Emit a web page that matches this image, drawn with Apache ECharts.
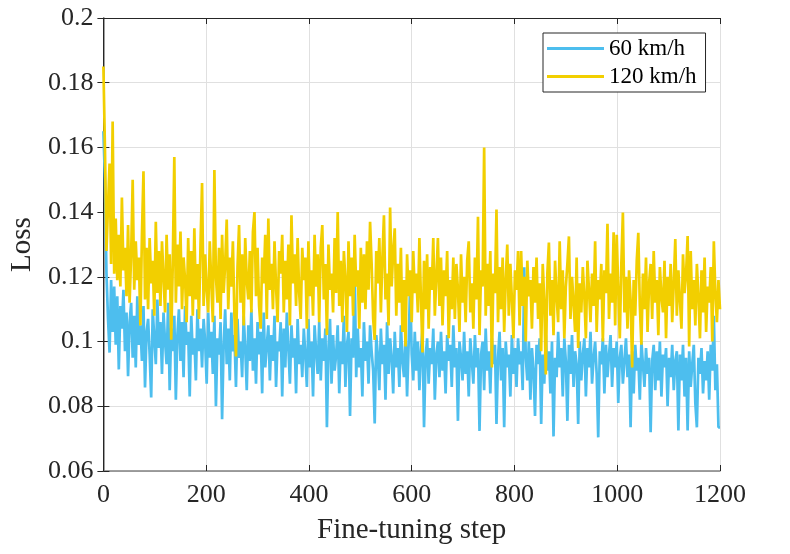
<!DOCTYPE html>
<html>
<head>
<meta charset="utf-8">
<title>Fine-tuning loss</title>
<script src="https://cdn.jsdelivr.net/npm/echarts@6/dist/echarts.min.js"></script>
<style>
  body { margin: 0; background: #fff; }
  #chart { width: 790px; height: 554px; }
</style>
</head>
<body>
<div id="chart"></div>
<script>
// one value every STEP fine-tuning steps (last one is step 1200)
var STEP = 3;
var seriesNames = ['60 km/h', '120 km/h'];
var xTicks = [0, 200, 400, 600, 800, 1000, 1200];
var yTicks = [0.06, 0.08, 0.1, 0.12, 0.14, 0.16, 0.18, 0.2];

var loss60 = [
  0.165, 0.150, 0.121, 0.107, 0.0966, 0.119, 0.103, 0.117, 0.099, 0.114,
  0.0914, 0.111, 0.104, 0.116, 0.097, 0.109, 0.0893, 0.106, 0.112, 0.095,
  0.108, 0.092, 0.114, 0.099, 0.105, 0.094, 0.111, 0.0858, 0.103, 0.107,
  0.096, 0.0827, 0.110, 0.101, 0.093, 0.113, 0.098, 0.106, 0.090, 0.109,
  0.100, 0.093, 0.112, 0.085, 0.104, 0.097, 0.108, 0.082, 0.102, 0.110,
  0.094, 0.106, 0.089, 0.111, 0.099, 0.103, 0.083, 0.108, 0.096, 0.101,
  0.088, 0.110, 0.097, 0.104, 0.092, 0.107, 0.100, 0.087, 0.109, 0.095,
  0.103, 0.090, 0.108, 0.080, 0.101, 0.096, 0.106, 0.076, 0.099, 0.110,
  0.093, 0.104, 0.088, 0.109, 0.097, 0.102, 0.086, 0.107, 0.095, 0.100,
  0.089, 0.108, 0.098, 0.085, 0.105, 0.094, 0.110, 0.091, 0.101, 0.087,
  0.106, 0.096, 0.103, 0.084, 0.109, 0.092, 0.099, 0.105, 0.088, 0.102,
  0.094, 0.108, 0.086, 0.100, 0.097, 0.106, 0.083, 0.104, 0.092, 0.109,
  0.098, 0.087, 0.105, 0.095, 0.101, 0.084, 0.107, 0.093, 0.099, 0.089,
  0.104, 0.096, 0.086, 0.107, 0.092, 0.100, 0.083, 0.105, 0.097, 0.090,
  0.106, 0.088, 0.101, 0.094, 0.104, 0.0735, 0.098, 0.107, 0.087, 0.102,
  0.091, 0.096, 0.105, 0.084, 0.100, 0.093, 0.108, 0.086, 0.099, 0.103,
  0.077, 0.101, 0.095, 0.123, 0.089, 0.104, 0.092, 0.098, 0.083, 0.106,
  0.094, 0.100, 0.087, 0.105, 0.097, 0.091, 0.0747, 0.102, 0.096, 0.085,
  0.104, 0.093, 0.099, 0.082, 0.106, 0.090, 0.101, 0.095, 0.084, 0.103,
  0.092, 0.098, 0.086, 0.105, 0.094, 0.089, 0.102, 0.083, 0.099, 0.118,
  0.096, 0.088, 0.103, 0.091, 0.100, 0.085, 0.097, 0.104, 0.0735, 0.095,
  0.101, 0.087, 0.098, 0.093, 0.104, 0.082, 0.096, 0.100, 0.089, 0.103,
  0.091, 0.097, 0.084, 0.102, 0.094, 0.099, 0.086, 0.105, 0.092, 0.098,
  0.0755, 0.100, 0.095, 0.088, 0.103, 0.090, 0.097, 0.083, 0.101, 0.094,
  0.087, 0.102, 0.092, 0.098, 0.0724, 0.096, 0.100, 0.085, 0.104, 0.091,
  0.097, 0.084, 0.101, 0.093, 0.099, 0.0745, 0.095, 0.103, 0.088, 0.098,
  0.0735, 0.100, 0.092, 0.096, 0.083, 0.102, 0.090, 0.098, 0.086, 0.101,
  0.093, 0.097, 0.085, 0.123, 0.095, 0.088, 0.100, 0.082, 0.098, 0.091,
  0.077, 0.099, 0.093, 0.101, 0.0745, 0.096, 0.087, 0.102, 0.091, 0.097,
  0.084, 0.100, 0.0707, 0.095, 0.089, 0.103, 0.092, 0.098, 0.083, 0.101,
  0.094, 0.0755, 0.099, 0.090, 0.102, 0.086, 0.097, 0.093, 0.0745, 0.100,
  0.088, 0.096, 0.101, 0.083, 0.098, 0.092, 0.103, 0.087, 0.095, 0.100,
  0.090, 0.0704, 0.097, 0.093, 0.101, 0.084, 0.099, 0.089, 0.096, 0.102,
  0.086, 0.098, 0.092, 0.100, 0.081, 0.095, 0.099, 0.087, 0.094, 0.101,
  0.089, 0.096, 0.0735, 0.097, 0.084, 0.099, 0.091, 0.095, 0.082, 0.100,
  0.093, 0.086, 0.098, 0.090, 0.095, 0.072, 0.094, 0.099, 0.085, 0.097,
  0.088, 0.100, 0.083, 0.096, 0.092, 0.098, 0.080, 0.095, 0.089, 0.099,
  0.085, 0.094, 0.097, 0.0725, 0.096, 0.088, 0.099, 0.083, 0.095, 0.0725,
  0.097, 0.086, 0.093, 0.099, 0.081, 0.0735, 0.095, 0.090, 0.098, 0.084,
  0.094, 0.088, 0.097, 0.082, 0.099, 0.091, 0.108, 0.085, 0.093, 0.0735,
  0.0735
];

var loss120 = [
  0.185, 0.160, 0.128, 0.142, 0.155, 0.124, 0.168, 0.121, 0.138, 0.119,
  0.133, 0.117, 0.1445, 0.122, 0.129, 0.114, 0.136, 0.112, 0.127, 0.150,
  0.116, 0.131, 0.119, 0.126, 0.105, 0.133, 0.1526, 0.113, 0.129, 0.110,
  0.132, 0.118, 0.125, 0.108, 0.137, 0.115, 0.128, 0.111, 0.131, 0.120,
  0.109, 0.133, 0.116, 0.127, 0.1006, 0.124, 0.157, 0.112, 0.130, 0.117,
  0.134, 0.110, 0.126, 0.119, 0.106, 0.132, 0.114, 0.128, 0.108, 0.135,
  0.113, 0.124, 0.107, 0.130, 0.149, 0.111, 0.127, 0.116, 0.109, 0.131,
  0.118, 0.106, 0.153, 0.120, 0.112, 0.129, 0.107, 0.133, 0.115, 0.124,
  0.1377, 0.110, 0.126, 0.117, 0.131, 0.108, 0.0954, 0.123, 0.136, 0.112,
  0.127, 0.105, 0.132, 0.119, 0.113, 0.128, 0.109, 0.134, 0.140, 0.114,
  0.129, 0.111, 0.104, 0.126, 0.118, 0.133, 0.107, 0.138, 0.116, 0.124,
  0.110, 0.131, 0.117, 0.106, 0.128, 0.121, 0.133, 0.109, 0.125, 0.113,
  0.130, 0.105, 0.139, 0.118, 0.127, 0.111, 0.132, 0.115, 0.107, 0.129,
  0.119, 0.126, 0.104, 0.131, 0.114, 0.122, 0.108, 0.133, 0.117, 0.127,
  0.106, 0.129, 0.136, 0.113, 0.124, 0.102, 0.130, 0.116, 0.121, 0.109,
  0.132, 0.115, 0.140, 0.111, 0.125, 0.106, 0.128, 0.119, 0.103, 0.131,
  0.114, 0.126, 0.108, 0.133, 0.117, 0.122, 0.104, 0.129, 0.112, 0.127,
  0.110, 0.131, 0.116, 0.137, 0.124, 0.107, 0.1005, 0.128, 0.118, 0.132,
  0.109, 0.126, 0.139, 0.113, 0.121, 0.105, 0.1414, 0.117, 0.128, 0.135,
  0.108, 0.124, 0.112, 0.129, 0.103, 0.119, 0.0985, 0.127, 0.114, 0.122,
  0.106, 0.128, 0.115, 0.121, 0.109, 0.132, 0.113, 0.0966, 0.125, 0.110,
  0.127, 0.104, 0.123, 0.116, 0.132, 0.108, 0.120, 0.132, 0.111, 0.126,
  0.105, 0.122, 0.114, 0.128, 0.101, 0.119, 0.110, 0.126, 0.107, 0.124,
  0.116, 0.103, 0.127, 0.112, 0.120, 0.106, 0.125, 0.131, 0.109, 0.118,
  0.104, 0.126, 0.113, 0.1386, 0.102, 0.122, 0.117, 0.160, 0.108, 0.124,
  0.111, 0.128, 0.092, 0.121, 0.115, 0.1408, 0.106, 0.123, 0.110, 0.126,
  0.103, 0.119, 0.130, 0.108, 0.124, 0.113, 0.101, 0.122, 0.116, 0.128,
  0.105, 0.128, 0.111, 0.120, 0.100, 0.125, 0.114, 0.119, 0.104, 0.123,
  0.112, 0.126, 0.107, 0.118, 0.097, 0.124, 0.113, 0.0898, 0.121, 0.1306,
  0.108, 0.119, 0.102, 0.125, 0.114, 0.106, 0.131, 0.110, 0.122, 0.101,
  0.117, 0.124, 0.1325, 0.107, 0.120, 0.112, 0.103, 0.126, 0.098, 0.118,
  0.109, 0.123, 0.114, 0.101, 0.125, 0.116, 0.106, 0.121, 0.111, 0.131,
  0.103, 0.119, 0.113, 0.124, 0.100, 0.122, 0.115, 0.1364, 0.107, 0.121,
  0.112, 0.1338, 0.105, 0.133, 0.116, 0.101, 0.124, 0.1399, 0.109, 0.120,
  0.104, 0.122, 0.113, 0.092, 0.119, 0.108, 0.125, 0.1336, 0.111, 0.099,
  0.121, 0.110, 0.126, 0.103, 0.118, 0.124, 0.107, 0.128, 0.112, 0.119,
  0.102, 0.123, 0.114, 0.109, 0.125, 0.101, 0.120, 0.111, 0.124, 0.106,
  0.118, 0.1317, 0.108, 0.122, 0.113, 0.104, 0.127, 0.115, 0.121, 0.1326,
  0.0985, 0.128, 0.110, 0.119, 0.105, 0.124, 0.114, 0.101, 0.122, 0.109,
  0.126, 0.103, 0.117, 0.112, 0.123, 0.100, 0.131, 0.115, 0.106, 0.119,
  0.110
];

var colors = ['#4DBEEE', '#F2CF00'];
var font = "'Liberation Serif', 'Times New Roman', serif";

function pairs(values) {
  return values.map(function (v, i) { return [i * STEP, v]; });
}

var chart = echarts.init(document.getElementById('chart'), null, { renderer: 'canvas' });

// top and right edges of the box: line and inward ticks only
var edgeAxis = {
  axisLine: { show: true, lineStyle: { color: '#262626', width: 1 } },
  axisTick: { show: true, inside: true, length: 6, lineStyle: { color: '#262626' } },
  axisLabel: { show: false },
  splitLine: { show: false }
};

chart.setOption({
  animation: false,
  backgroundColor: '#fff',
  textStyle: { fontFamily: font },
  grid: { left: 103, right: 70, top: 18, bottom: 83, containLabel: false },
  legend: {
    data: seriesNames,
    orient: 'vertical',
    left: 543,
    top: 33,
    padding: [4, 9, 4, 4],
    itemGap: 5,
    itemWidth: 57,
    itemHeight: 3,
    icon: 'rect',
    borderColor: '#262626',
    borderWidth: 1,
    backgroundColor: '#fff',
    textStyle: { fontFamily: font, fontSize: 23, lineHeight: 23, color: '#000' }
  },
  xAxis: [{
    type: 'value',
    min: xTicks[0],
    max: xTicks[xTicks.length - 1],
    interval: 200,
    name: 'Fine-tuning step',
    nameLocation: 'middle',
    nameGap: 45,
    nameTextStyle: { fontFamily: font, fontSize: 29, color: '#262626' },
    axisLine: { show: true, onZero: false, lineStyle: { color: '#808080', width: 1.5 } },
    axisTick: { show: true, inside: true, length: 6, lineStyle: { color: '#262626' } },
    axisLabel: {
      fontFamily: font, fontSize: 26, color: '#262626', margin: 11,
      formatter: function (v) { return String(v); }
    },
    splitLine: { show: true, lineStyle: { color: '#e0e0e0', width: 1 } }
  }, Object.assign({
    type: 'value', position: 'top',
    min: xTicks[0], max: xTicks[xTicks.length - 1], interval: 200
  }, edgeAxis)],
  yAxis: [{
    type: 'value',
    min: yTicks[0],
    max: yTicks[yTicks.length - 1],
    interval: 0.02,
    name: 'Loss',
    nameLocation: 'middle',
    nameGap: 60,
    nameTextStyle: { fontFamily: font, fontSize: 29, color: '#262626' },
    axisLine: { show: true, onZero: false, lineStyle: { color: '#808080', width: 1.5 } },
    axisTick: { show: true, inside: true, length: 6, lineStyle: { color: '#262626' } },
    axisLabel: {
      fontFamily: font, fontSize: 26, color: '#262626', margin: 10,
      formatter: function (v) { return String(+v.toFixed(2)); }
    },
    splitLine: { show: true, lineStyle: { color: '#e0e0e0', width: 1 } }
  }, Object.assign({
    type: 'value', position: 'right',
    min: yTicks[0], max: yTicks[yTicks.length - 1], interval: 0.02
  }, edgeAxis)],
  series: [{
    name: seriesNames[0],
    type: 'line',
    data: pairs(loss60),
    showSymbol: false,
    symbol: 'none',
    color: colors[0],
    lineStyle: { color: colors[0], width: 2.7 },
    z: 2
  }, {
    name: seriesNames[1],
    type: 'line',
    data: pairs(loss120),
    showSymbol: false,
    symbol: 'none',
    color: colors[1],
    lineStyle: { color: colors[1], width: 2.7 },
    z: 3
  }]
});
</script>
</body>
</html>
